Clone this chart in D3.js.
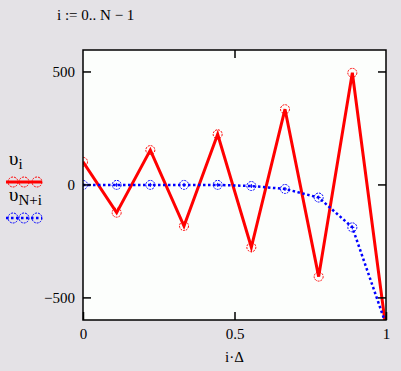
<!DOCTYPE html>
<html lang="en">
  <head>
    <meta charset="utf-8">
    <title></title>
    <script src="https://cdn.jsdelivr.net/npm/d3@7"></script>
    <style>
      body { margin: 0; background: #e4e2e6; }
      svg { display: block; }
      svg text { font-family: "Liberation Serif", serif; }
    </style>
  </head>
  <body>
    <svg id="chart" width="401" height="371"></svg>
  <script>
  // sample positions i*Δ, i = 0..N-1, Δ = 1/9
  var xValues = [0, 1/9, 2/9, 3/9, 4/9, 5/9, 6/9, 7/9, 8/9, 1]
  var upsilonI  = [100, -125, 152, -184, 222, -278, 333, -408, 494, -640]
  var upsilonNI = [-2, -2, -2, -2, -2, -7, -20, -58, -190, -620]
  var yTicks = [-500, 0, 500]
  var xTicks = [0, 0.5, 1]

  var svg = d3.select("#chart"),
      margin = {top: 50, left: 83, bottom: 51, right: 15},
      width = +svg.attr("width"),
      height = +svg.attr("height")

  var x = d3.scaleLinear().domain([0, 1]).range([margin.left, width - margin.right])
  var y = d3.scaleLinear().domain([-600, 595]).range([height - margin.bottom, margin.top])

  svg.append("text")
      .attr("x", 57).attr("y", 20)
      .style("font-size", "15px")
      .text("i := 0.. N \u2212 1")

  svg.append("clipPath").attr("id", "clip")
    .append("rect")
      .attr("x", x(0)).attr("y", y(595))
      .attr("width", x(1) - x(0)).attr("height", y(-600) - y(595))

  svg.append("rect")
      .attr("x", x(0)).attr("y", y(595))
      .attr("width", x(1) - x(0)).attr("height", y(-600) - y(595))
      .attr("fill", "#fcfefc")

  var series = [
    {values: upsilonI,  color: "#ff0000", width: 3,   dash: null,      plus: false},
    {values: upsilonNI, color: "#0000ff", width: 2.5, dash: "2.5,2.5", plus: true}
  ]

  var line = d3.line().x((d, i) => x(xValues[i])).y(d => y(d))
  var plot = svg.append("g").attr("clip-path", "url(#clip)")

  series.forEach(function(s) {
    plot.append("path")
        .datum(s.values)
        .attr("fill", "none")
        .attr("stroke", s.color)
        .attr("stroke-width", s.width)
        .attr("stroke-dasharray", s.dash)
        .attr("d", line)

    var marks = plot.selectAll(null)
        .data(s.values)
        .enter().append("g")
        .attr("transform", (d, i) => `translate(${x(xValues[i])},${y(d)})`)
    marks.append("circle")
        .attr("r", 4.5)
        .attr("fill", "none")
        .attr("stroke", s.color)
        .attr("stroke-width", 1)
        .attr("stroke-dasharray", "2,1")
    if (s.plus) {
      marks.append("path")
          .attr("d", "M-2,0H2M0,-2V2")
          .attr("stroke", s.color)
          .attr("stroke-width", 1)
    }
  })

  // frame
  svg.append("rect")
      .attr("x", x(0)).attr("y", y(595))
      .attr("width", x(1) - x(0)).attr("height", y(-600) - y(595))
      .attr("fill", "none")
      .attr("stroke", "#000")
      .attr("stroke-width", 1.5)

  function styleAxis(g) {
    g.select(".domain").remove()
    g.attr("font-family", null).attr("font-size", null)
    g.selectAll("line").attr("stroke", "#000").attr("stroke-width", 1.5)
    g.selectAll("text").attr("fill", "#000").style("font-size", "15px")
  }

  svg.append("g")
      .attr("transform", `translate(${x(0)},0)`)
      .call(d3.axisLeft(y).tickValues(yTicks).tickSize(-8).tickPadding(8).tickFormat(d3.format("d")))
      .call(styleAxis)

  svg.append("g")
      .attr("transform", `translate(${x(1)},0)`)
      .call(d3.axisRight(y).tickValues(yTicks).tickSize(-8).tickFormat(""))
      .call(styleAxis)

  svg.append("g")
      .attr("transform", `translate(0,${y(-600)})`)
      .call(d3.axisBottom(x).tickValues(xTicks).tickSize(-8).tickPadding(8).tickFormat(d3.format("~g")))
      .call(styleAxis)

  svg.append("g")
      .attr("transform", `translate(0,${y(595)})`)
      .call(d3.axisTop(x).tickValues([0.5]).tickSize(-8).tickFormat(""))
      .call(styleAxis)

  svg.append("text")
      .attr("x", x(0.5)).attr("y", 362)
      .attr("text-anchor", "middle")
      .style("font-size", "15px")
      .text("i\u00b7\u0394")

  // legend
  var labels = [["\u03c5", "i"], ["\u03c5", "N+i"]]
  var legend = svg.selectAll(".legend")
      .data(series)
      .enter().append("g")
      .attr("class", "legend")
      .attr("transform", (d, i) => `translate(0,${i * 36})`)

  legend.append("text")
      .attr("x", 9).attr("y", 165)
      .style("font-size", "19px")
      .each(function(d, i) {
        var t = d3.select(this)
        t.append("tspan").text(labels[i][0])
        t.append("tspan").attr("dy", 4).style("font-size", "15px").text(labels[i][1])
      })

  legend.append("line")
      .attr("x1", 6).attr("x2", 42).attr("y1", 182).attr("y2", 182)
      .attr("stroke", d => d.color)
      .attr("stroke-width", d => d.width)
      .attr("stroke-dasharray", d => d.dash)

  legend.selectAll("circle")
      .data(d => [13, 24, 37].map(cx => ({cx: cx, s: d})))
      .enter().append("circle")
      .attr("cx", d => d.cx).attr("cy", 182).attr("r", 5)
      .attr("fill", "none")
      .attr("stroke", d => d.s.color)
      .attr("stroke-dasharray", "2,1")
  </script>
  </body>
</html>
